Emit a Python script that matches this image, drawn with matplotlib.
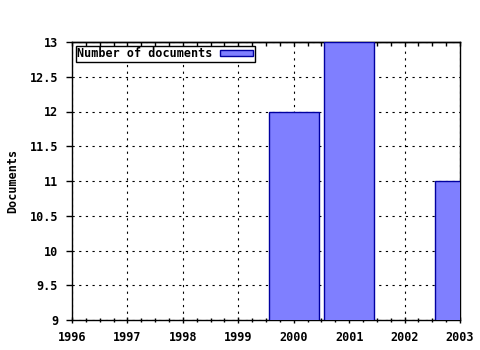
import matplotlib
matplotlib.use('Agg')
import matplotlib.pyplot as plt
from matplotlib.ticker import MultipleLocator

years = [2000, 2001, 2003]
docs = [12, 13, 11]
xticks = [1996, 1997, 1998, 1999, 2000, 2001, 2002, 2003]
yticks = [9, 9.5, 10, 10.5, 11, 11.5, 12, 12.5, 13]
ytick_labels = ['9', '9.5', '10', '10.5', '11', '11.5', '12', '12.5', '13']

plt.rcParams['font.family'] = 'DejaVu Sans Mono'
plt.rcParams['font.weight'] = 'bold'
plt.rcParams['font.size'] = 8

fig = plt.figure(figsize=(4.8, 3.5), dpi=100)
ax = fig.add_axes([72/480, 30/350, 388/480, 278/350])

ax.bar(years, docs, width=0.9, color='#7f7fff', edgecolor='#0000a0', linewidth=1,
	   label='Number of documents', zorder=3)

ax.set_xlim(1996, 2003)
ax.set_ylim(9, 13)
ax.set_xticks(xticks)
ax.set_xticklabels([str(x) for x in xticks])
ax.set_yticks(yticks)
ax.set_yticklabels(ytick_labels)
ax.xaxis.set_minor_locator(MultipleLocator(0.25))
ax.grid(True, which='major', linestyle=(0, (2, 4)), color='black', linewidth=0.8, zorder=1)
ax.tick_params(axis='x', which='both', direction='inout', top=False, length=4, width=1)
ax.tick_params(axis='x', which='minor', length=3)
ax.tick_params(axis='y', direction='out', length=4, width=1)
ax.tick_params(axis='both', pad=6, labelsize=8.5)

# inward ticks along the top edge
top = ax.secondary_xaxis('top')
top.set_xticks(xticks)
top.xaxis.set_minor_locator(MultipleLocator(0.25))
top.tick_params(axis='x', which='both', direction='in', length=3, width=1, labeltop=False)
top.spines['top'].set_linewidth(1)

for s in ax.spines.values():
	s.set_linewidth(1)
	s.set_color('black')

ax.set_ylabel('Documents', fontsize=8.5, fontweight='bold')
ax.yaxis.set_label_coords(-0.135, 0.5)

leg = ax.legend(loc='upper left', fancybox=False, framealpha=1, edgecolor='black',
				borderpad=0.15, handlelength=2.8, handleheight=0.5, borderaxespad=0.3,
				handletextpad=0.6, markerfirst=False, prop={'size': 8.5, 'weight': 'bold'})
leg.get_frame().set_linewidth(1)
leg.legend_handles[0].set_edgecolor('#0000a0')

fig.savefig('out.png', dpi=100)
